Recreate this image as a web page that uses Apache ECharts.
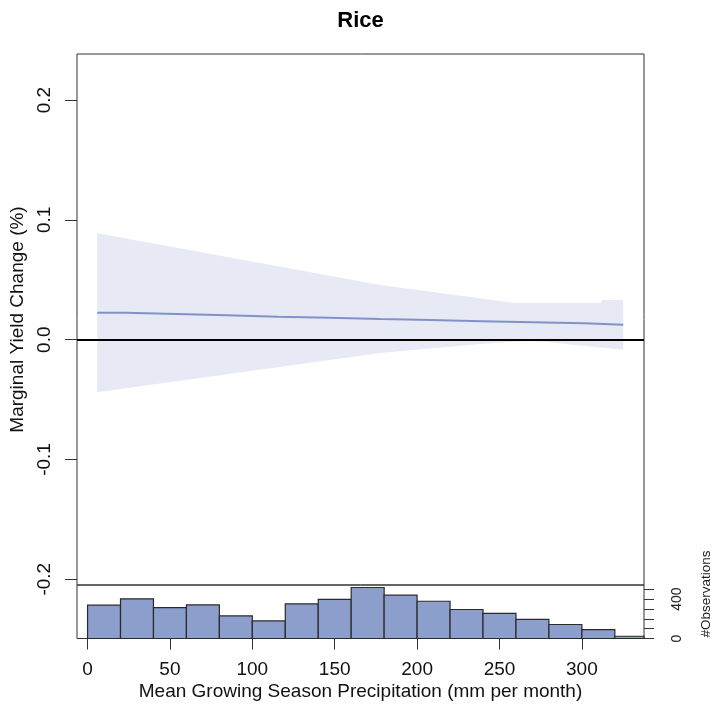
<!DOCTYPE html>
<html>
<head>
<meta charset="utf-8">
<script src="https://cdn.jsdelivr.net/npm/echarts@6/dist/echarts.min.js"></script>
<style>
html,body{margin:0;padding:0;background:#fff;}
#chart{width:713px;height:714px;}
</style>
</head>
<body>
<div id="chart"></div>
<script>
// ---- data ----
const xTicks = [0, 50, 100, 150, 200, 250, 300];
const yTicks = [-0.2, -0.1, 0, 0.1, 0.2];
const histTicks = [0, 100, 200, 300, 400, 500];
const histLabels = [0, 400];
const binStart = [0, 20, 40, 60, 80, 100, 120, 140, 160, 180, 200, 220, 240, 260, 280, 300, 320];
const binWidth = 20;
const binCounts = [338, 402, 314, 341, 229, 178, 351, 396, 517, 439, 378, 294, 254, 193, 142, 91, 23];
// marginal effect (stepped line)
const lineX = [5.9, 22.8, 54.1, 84.5, 115.8, 146.8, 177.7, 208.2, 239.2, 270.1, 301.3, 325.1];
const lineY = [0.0225, 0.0215, 0.0204, 0.0192, 0.0184, 0.0173, 0.0164, 0.0154, 0.0145, 0.0137, 0.0125, 0.0125];
// confidence band
const upperX = [5.9, 177.7, 238, 258, 312, 312, 325.1];
const upperY = [0.0888, 0.0457, 0.0346, 0.0309, 0.0309, 0.0331, 0.0331];
const lowerX = [5.9, 177.7, 238, 262, 275, 325.1];
const lowerY = [-0.0439, -0.0111, -0.0035, -0.0016, -0.0016, -0.0083];

const title = 'Rice';
const xName = 'Mean Growing Season Precipitation (mm per month)';
const yName = 'Marginal Yield Change (%)';
const histName = '#Observations';

// ---- chart ----
const FONT = 'Liberation Sans, Arial, sans-serif';
const X_MIN = -6.4, X_MAX = 337.7;
const chart = echarts.init(document.getElementById('chart'), null, {renderer: 'canvas'});

const bandData = upperX.map((x, i) => [x, upperY[i]])
  .concat(lowerX.map((x, i) => [x, lowerY[i]]).reverse());

const option = {
  backgroundColor: '#fff',
  animation: false,
  textStyle: {fontFamily: FONT},
  graphic: [
    {type: 'text', x: 360.5, y: 21, style: {text: title, font: 'bold 22px ' + FONT, fill: '#000', align: 'center', verticalAlign: 'middle'}},
    {type: 'text', x: 706, y: 594, rotation: Math.PI / 2, style: {text: histName, font: '13.5px ' + FONT, fill: '#222', align: 'center', verticalAlign: 'middle'}}
  ],
  grid: [
    {left: 77, right: 69, top: 54, height: 531, show: true, borderColor: '#333', borderWidth: 1, backgroundColor: 'transparent'},
    {left: 77, right: 69, top: 585, height: 53.5, show: true, borderColor: '#333', borderWidth: 1, backgroundColor: 'transparent'}
  ],
  xAxis: [
    {type: 'value', gridIndex: 0, min: X_MIN, max: X_MAX, show: false, axisLine: {onZero: false}},
    {type: 'value', gridIndex: 1, min: X_MIN, max: X_MAX, position: 'bottom',
      axisLine: {show: false, onZero: false}, splitLine: {show: false},
      axisTick: {show: true, inside: false, length: 11, customValues: xTicks, lineStyle: {color: '#333', width: 1}},
      axisLabel: {customValues: xTicks, margin: 22, fontSize: 19, color: '#111', fontFamily: FONT},
      name: xName, nameLocation: 'middle', nameGap: 44,
      nameTextStyle: {fontSize: 19, color: '#111', fontFamily: FONT}}
  ],
  yAxis: [
    {type: 'value', gridIndex: 0, min: -0.2048, max: 0.2385, position: 'left',
      axisLine: {show: false, onZero: false}, splitLine: {show: false},
      axisTick: {show: true, inside: false, length: 12, customValues: yTicks, lineStyle: {color: '#333', width: 1}},
      axisLabel: {customValues: yTicks, rotate: 90, margin: 23, fontSize: 19, color: '#111', fontFamily: FONT,
        formatter: v => Number(v).toFixed(1)},
      name: yName, nameLocation: 'middle', nameGap: 48,
      nameTextStyle: {fontSize: 19, color: '#111', fontFamily: FONT}},
    {type: 'value', gridIndex: 1, min: 0, max: 542.6, position: 'right',
      axisLine: {show: false, onZero: false}, splitLine: {show: false},
      axisTick: {show: true, inside: false, length: 10, customValues: histTicks, lineStyle: {color: '#333', width: 1}},
      axisLabel: {customValues: histLabels, rotate: 90, margin: 26, fontSize: 14, color: '#222', fontFamily: FONT}}
  ],
  series: [
    {
      type: 'custom', xAxisIndex: 0, yAxisIndex: 0, z: 1,
      data: bandData,
      renderItem: function (params, api) {
        if (params.dataIndex !== 0) return null;
        const pts = bandData.map(p => api.coord(p));
        return {type: 'polygon', shape: {points: pts}, style: {fill: '#E7EAF5', stroke: null}};
      }
    },
    {
      type: 'line', xAxisIndex: 0, yAxisIndex: 0, z: 3,
      data: lineX.map((x, i) => [x, lineY[i]]),
      step: 'end', symbol: 'none',
      lineStyle: {color: '#8192C8', width: 2},
      markLine: {
        silent: true, symbol: 'none', label: {show: false},
        lineStyle: {color: '#000', width: 2, type: 'solid'},
        data: [{yAxis: 0}], z: 5
      }
    },
    {
      type: 'custom', xAxisIndex: 1, yAxisIndex: 1, z: 2,
      data: binStart.map((s, i) => [s, s + binWidth, binCounts[i]]),
      renderItem: function (params, api) {
        const p0 = api.coord([api.value(0), api.value(2)]);
        const p1 = api.coord([api.value(1), 0]);
        const cs = params.coordSys;
        const rect = echarts.graphic.clipRectByRect(
          {x: p0[0], y: p0[1], width: p1[0] - p0[0], height: p1[1] - p0[1]},
          {x: cs.x, y: cs.y, width: cs.width, height: cs.height});
        if (!rect) return null;
        return {type: 'rect', shape: rect, style: {fill: '#8C9ECB', stroke: '#2a2a2a', lineWidth: 1.2}};
      }
    }
  ]
};
chart.setOption(option);
</script>
</body>
</html>
